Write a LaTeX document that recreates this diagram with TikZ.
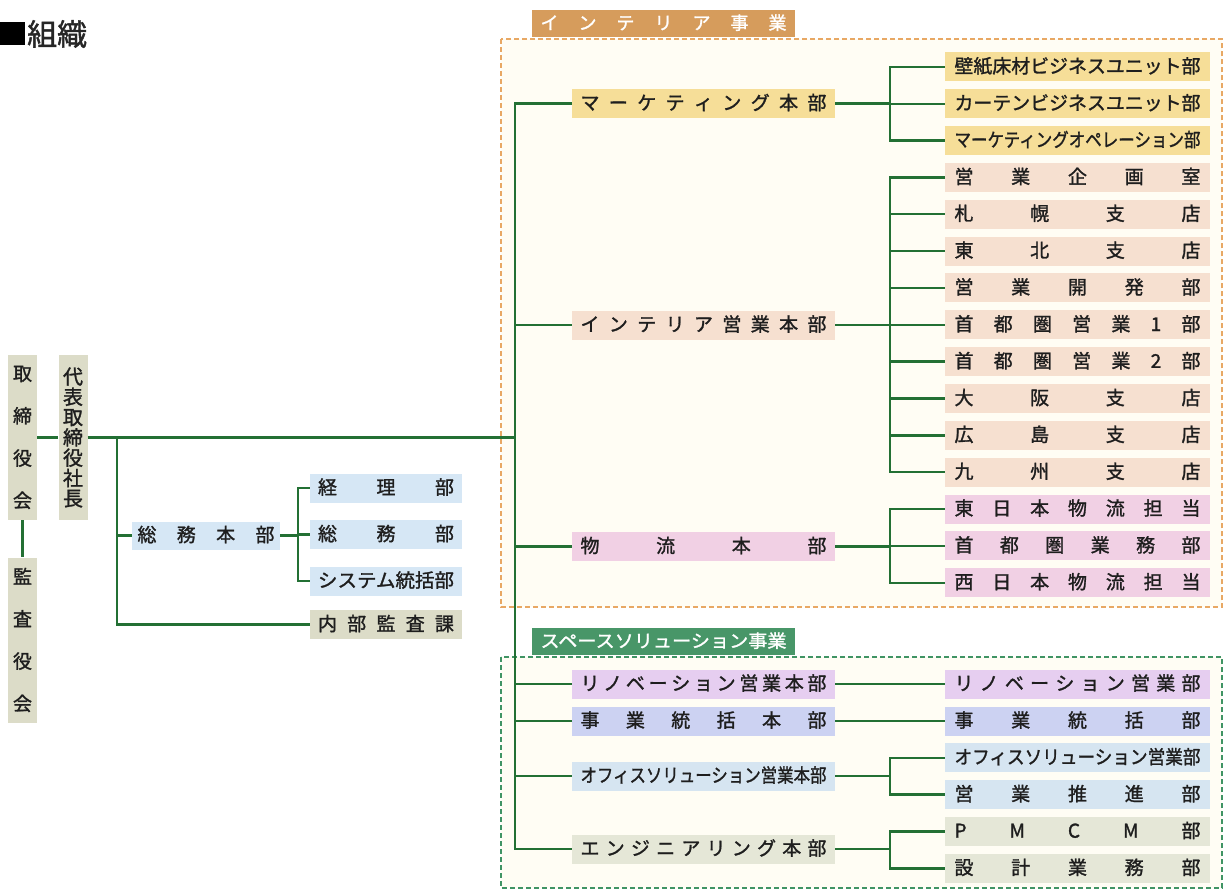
\documentclass[tikz,border=0pt]{standalone}
\usepackage{fontspec}
\setmainfont{Noto Sans CJK JP}[FakeBold=1.4]
\usepackage{graphicx}
\newcommand{\spread}[2]{\makebox[#1]{#2}}
\newcommand{\squeeze}[2]{\resizebox{#1}{\height}{#2}}
\definecolor{linegreen}{RGB}{35,112,52}
\definecolor{txt}{RGB}{30,30,30}
\definecolor{boardgray}{RGB}{220,220,200}
\definecolor{somublue}{RGB}{214,231,245}
\definecolor{mkyellow}{RGB}{246,222,152}
\definecolor{peach}{RGB}{246,224,208}
\definecolor{pink}{RGB}{241,208,228}
\definecolor{lavender}{RGB}{230,206,240}
\definecolor{peri}{RGB}{204,210,242}
\definecolor{offblue}{RGB}{214,229,241}
\definecolor{engi}{RGB}{229,231,215}
\definecolor{orangelab}{RGB}{214,156,92}
\definecolor{orangedash}{RGB}{232,168,100}
\definecolor{greenlab}{RGB}{72,150,104}
\definecolor{greendash}{RGB}{64,148,100}
\definecolor{cream}{RGB}{255,253,244}
\begin{document}
\begin{tikzpicture}[x=1pt,y=-1pt,
  conn/.style={draw=linegreen,line width=2.4pt},
  ubox/.style={inner sep=0pt,text height=16pt,text depth=3.5pt,text=txt,font=\fontsize{19}{19}\selectfont},
  midbox/.style={ubox,minimum width=263pt,minimum height=29pt},
  rbox/.style={ubox,minimum width=265pt,minimum height=29pt},
  lbox/.style={ubox,minimum width=152pt,minimum height=29pt},
  vbox/.style={inner sep=0pt,align=center,text=txt,minimum width=29pt,minimum height=165pt},
  lab/.style={inner sep=0pt,text height=15pt,text depth=3pt,text=white,minimum width=263pt,minimum height=27pt,font=\fontsize{18}{18}\selectfont},
  dashbox/.style={line width=2pt,dash pattern=on 5pt off 3pt}
]
\useasboundingbox (0,0) rectangle (1223,892);
\fill[white] (0,0) rectangle (1223,892);

% title
\fill[black] (0,22) rectangle (25,45);
\node[anchor=west,inner sep=0pt,font=\fontsize{30}{30}\selectfont,text=black!85] (title) at (27,34) {組織};

% section frames
\draw[dashbox,draw=orangedash,fill=cream] (501,39) rectangle (1222,607);
\draw[dashbox,draw=greendash,fill=cream] (501,657) rectangle (1222,888);
\node[lab,fill=orangelab] (labint) at (663.5,23.5) {\spread{246pt}{イ\hfill ン\hfill テ\hfill リ\hfill ア\hfill 事\hfill 業}};
\node[lab,fill=greenlab] (labspace) at (663.5,641.5) {\squeeze{246pt}{スペースソリューション事業}};

% left column
\node[vbox,fill=boardgray,font=\fontsize{19}{42.3}\selectfont] (board) at (22.5,437.5) {取\\締\\役\\会};
\node[vbox,fill=boardgray,font=\fontsize{19}{42.3}\selectfont] (kansa) at (22.5,640) {監\\査\\役\\会};
\node[vbox,fill=boardgray,font=\fontsize{20}{20.3}\selectfont] (ceo) at (73,437.5) {代\\表\\取\\締\\役\\社\\長};

\node[ubox,fill=somublue,minimum width=148pt,minimum height=28pt] (gen) at (206,535.5) {\spread{137pt}{総\hfill 務\hfill 本\hfill 部}};
\node[lbox,fill=somublue] (acc) at (386,488) {\spread{136pt}{経\hfill 理\hfill 部}};
\node[lbox,fill=somublue] (gad) at (386,534.5) {\spread{136pt}{総\hfill 務\hfill 部}};
\node[lbox,fill=somublue] (sys) at (386,581) {\squeeze{136pt}{システム統括部}};
\node[lbox,fill=boardgray] (audit) at (386,624.5) {\spread{136pt}{内\hfill 部\hfill 監\hfill 査\hfill 課}};

% middle column
\node[midbox,fill=mkyellow] (mk) at (703.5,103.5) {\spread{246pt}{マ\hfill ー\hfill ケ\hfill テ\hfill ィ\hfill ン\hfill グ\hfill 本\hfill 部}};
\node[midbox,fill=peach] (isales) at (703.5,325) {\spread{246pt}{イ\hfill ン\hfill テ\hfill リ\hfill ア\hfill 営\hfill 業\hfill 本\hfill 部}};
\node[midbox,fill=pink] (logi) at (703.5,546.5) {\spread{246pt}{物\hfill 流\hfill 本\hfill 部}};
\node[midbox,fill=lavender] (reno) at (703.5,684) {\spread{246pt}{リ\hfill ノ\hfill ベ\hfill ー\hfill シ\hfill ョ\hfill ン\hfill 営\hfill 業\hfill 本\hfill 部}};
\node[midbox,fill=peri] (bizc) at (703.5,721) {\spread{246pt}{事\hfill 業\hfill 統\hfill 括\hfill 本\hfill 部}};
\node[midbox,fill=offblue] (office) at (703.5,776) {\squeeze{246pt}{オフィスソリューション営業本部}};
\node[midbox,fill=engi] (eng) at (703.5,849) {\spread{246pt}{エ\hfill ン\hfill ジ\hfill ニ\hfill ア\hfill リ\hfill ン\hfill グ\hfill 本\hfill 部}};

% right column
\node[rbox,fill=mkyellow] (r0) at (1077.5,66.8) {\squeeze{246pt}{壁紙床材ビジネスユニット部}};
\node[rbox,fill=mkyellow] (r1) at (1077.5,103.7) {\squeeze{246pt}{カーテンビジネスユニット部}};
\node[rbox,fill=mkyellow] (r2) at (1077.5,140.5) {\squeeze{246pt}{マーケティングオペレーション部}};
\node[rbox,fill=peach] (r3) at (1077.5,177.4) {\spread{246pt}{営\hfill 業\hfill 企\hfill 画\hfill 室}};
\node[rbox,fill=peach] (r4) at (1077.5,214.2) {\spread{246pt}{札\hfill 幌\hfill 支\hfill 店}};
\node[rbox,fill=peach] (r5) at (1077.5,251.1) {\spread{246pt}{東\hfill 北\hfill 支\hfill 店}};
\node[rbox,fill=peach] (r6) at (1077.5,287.9) {\spread{246pt}{営\hfill 業\hfill 開\hfill 発\hfill 部}};
\node[rbox,fill=peach] (r7) at (1077.5,324.8) {\spread{246pt}{首\hfill 都\hfill 圏\hfill 営\hfill 業\hfill 1\hfill 部}};
\node[rbox,fill=peach] (r8) at (1077.5,361.6) {\spread{246pt}{首\hfill 都\hfill 圏\hfill 営\hfill 業\hfill 2\hfill 部}};
\node[rbox,fill=peach] (r9) at (1077.5,398.5) {\spread{246pt}{大\hfill 阪\hfill 支\hfill 店}};
\node[rbox,fill=peach] (r10) at (1077.5,435.3) {\spread{246pt}{広\hfill 島\hfill 支\hfill 店}};
\node[rbox,fill=peach] (r11) at (1077.5,472.2) {\spread{246pt}{九\hfill 州\hfill 支\hfill 店}};
\node[rbox,fill=pink] (r12) at (1077.5,509) {\spread{246pt}{東\hfill 日\hfill 本\hfill 物\hfill 流\hfill 担\hfill 当}};
\node[rbox,fill=pink] (r13) at (1077.5,545.9) {\spread{246pt}{首\hfill 都\hfill 圏\hfill 業\hfill 務\hfill 部}};
\node[rbox,fill=pink] (r14) at (1077.5,582.7) {\spread{246pt}{西\hfill 日\hfill 本\hfill 物\hfill 流\hfill 担\hfill 当}};

\node[rbox,fill=lavender] (s0) at (1077.5,684) {\spread{246pt}{リ\hfill ノ\hfill ベ\hfill ー\hfill シ\hfill ョ\hfill ン\hfill 営\hfill 業\hfill 部}};
\node[rbox,fill=peri] (s1) at (1077.5,721) {\spread{246pt}{事\hfill 業\hfill 統\hfill 括\hfill 部}};
\node[rbox,fill=offblue] (s2) at (1077.5,757.7) {\squeeze{246pt}{オフィスソリューション営業部}};
\node[rbox,fill=offblue] (s3) at (1077.5,794.6) {\spread{246pt}{営\hfill 業\hfill 推\hfill 進\hfill 部}};
\node[rbox,fill=engi] (s4) at (1077.5,831.4) {\spread{246pt}{P\hfill M\hfill C\hfill M\hfill 部}};
\node[rbox,fill=engi] (s5) at (1077.5,868.3) {\spread{246pt}{設\hfill 計\hfill 業\hfill 務\hfill 部}};

% junction coordinates
\coordinate (bus) at (515,437.5);
\coordinate (lb) at (117,437.5);
\coordinate (gb) at (298,535.5);
\coordinate (bmk) at (890,103.5);
\coordinate (bis) at (890,325);
\coordinate (blg) at (890,546.5);
\coordinate (bof) at (890,776);
\coordinate (ben) at (890,849);

% connectors
\draw[conn] (board.east) -- (ceo.west);
\draw[conn] (board.south) -- (kansa.north);
\draw[conn] (ceo.east) -- (bus);
\draw[conn] (gen.west) -| (lb);
\draw[conn] (audit.west) -| (lb);
\draw[conn] (gen.east) -- (gb);
\foreach \n in {acc,gad,sys} \draw[conn] (\n.west) -| (gb);
\foreach \n in {mk,isales,logi,reno,bizc,office,eng} \draw[conn] (\n.west) -| (bus);
\draw[conn] (mk.east) -- (bmk);
\foreach \n in {r0,r1,r2} \draw[conn] (\n.west) -| (bmk);
\draw[conn] (isales.east) -- (bis);
\foreach \n in {r3,r4,r5,r6,r7,r8,r9,r10,r11} \draw[conn] (\n.west) -| (bis);
\draw[conn] (logi.east) -- (blg);
\foreach \n in {r12,r13,r14} \draw[conn] (\n.west) -| (blg);
\draw[conn] (reno.east) -- (s0.west);
\draw[conn] (bizc.east) -- (s1.west);
\draw[conn] (office.east) -- (bof);
\foreach \n in {s2,s3} \draw[conn] (\n.west) -| (bof);
\draw[conn] (eng.east) -- (ben);
\foreach \n in {s4,s5} \draw[conn] (\n.west) -| (ben);
\end{tikzpicture}
\end{document}
